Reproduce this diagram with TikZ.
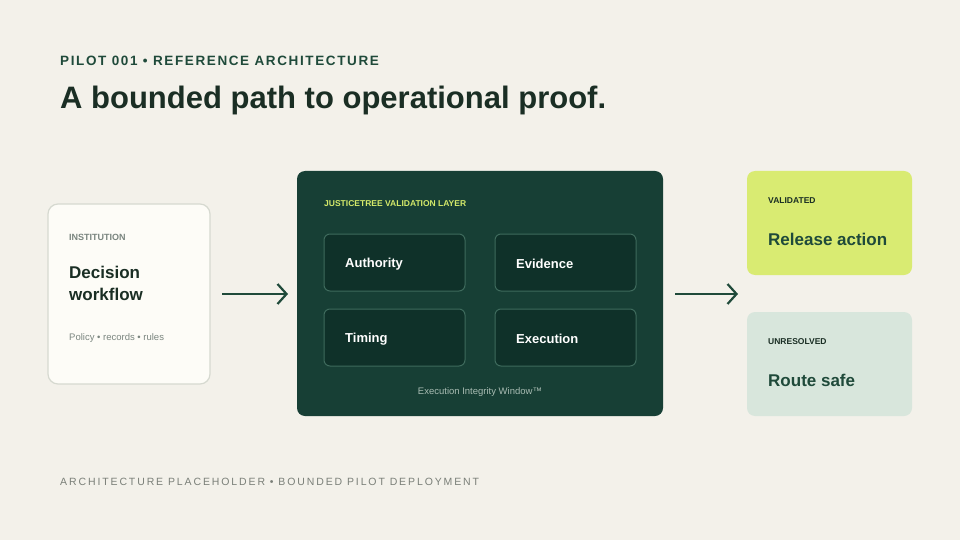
\documentclass[tikz,border=0pt]{standalone}
\usepackage{fontspec}
\setmainfont{Liberation Sans}
\newfontfamily\spacedA[LetterSpace=12]{Liberation Sans}
\newfontfamily\spacedB[LetterSpace=18]{Liberation Sans}
\usetikzlibrary{arrows.meta}
\definecolor{bg}{HTML}{F3F1EA}
\definecolor{dkg}{HTML}{1F4A3A}
\definecolor{ink}{HTML}{1A2E24}
\definecolor{panel}{HTML}{173F35}
\definecolor{cell}{HTML}{0F3129}
\definecolor{cellb}{HTML}{3E6A5C}
\definecolor{lime}{HTML}{D9EB72}
\definecolor{limet}{HTML}{D4E96A}
\definecolor{mint}{HTML}{D8E6DC}
\definecolor{gry}{HTML}{7A857F}
\begin{document}
\begin{tikzpicture}[x=1pt,y=-1pt,
  lbl/.style={anchor=west,inner sep=0pt},
  cellbox/.style={draw=cellb,fill=cell,rounded corners=6pt,line width=1pt},
  celltxt/.style={lbl,text=white,font=\fontsize{13}{15}\selectfont\bfseries},
  arr/.style={draw=dkg,line width=2.2pt,-{Straight Barb[length=9pt,width=20pt,line width=2.2pt]}}]
\fill[bg] (0,0) rectangle (960,540);
\useasboundingbox (0,0) rectangle (960,540);
\node[lbl,text=dkg,font=\spacedA\fontsize{13.5}{15}\selectfont\bfseries] (kick) at (60,61) {PILOT 001 • REFERENCE ARCHITECTURE};
\node[lbl,text=ink,font=\fontsize{31}{34}\selectfont\bfseries] (title) at (60,100) {A bounded path to operational proof.};
% left card
\node[draw={rgb,255:red,214;green,217;blue,208},fill={rgb,255:red,253;green,252;blue,247},rounded corners=10pt,line width=1.2pt,minimum width=162pt,minimum height=180pt,inner sep=0pt] (inst) at (129,294) {};
\node[lbl,text=gry,font=\fontsize{9}{11}\selectfont\bfseries] (instl) at (69,237) {INSTITUTION};
\node[anchor=north west,inner sep=0pt,text=ink,align=left,font=\fontsize{17}{22}\selectfont\bfseries] (dw) at (69,266) {Decision\\workflow};
\node[lbl,text=gry,font=\fontsize{9.5}{11}\selectfont] (pol) at (69,338) {Policy • records • rules};
% panel
\node[fill=panel,rounded corners=8pt,minimum width=366pt,minimum height=245pt,inner sep=0pt] (panel) at (480,293.5) {};
\node[lbl,text=limet,font=\fontsize{8.5}{10}\selectfont\bfseries] (jt) at (324,204) {JUSTICETREE VALIDATION LAYER};
\node[cellbox,minimum width=141pt,minimum height=57pt] (auth) at (394.5,262.5) {};
\node[cellbox,minimum width=141pt,minimum height=57pt] (evid) at (565.5,262.5) {};
\node[cellbox,minimum width=141pt,minimum height=57pt] (tim) at (394.5,337.5) {};
\node[cellbox,minimum width=141pt,minimum height=57pt] (exe) at (565.5,337.5) {};
\node[celltxt] at (345,264) {Authority};
\node[celltxt] at (516,264) {Evidence};
\node[celltxt] at (345,339) {Timing};
\node[celltxt] at (516,339) {Execution};
\node[inner sep=0pt,text={rgb,255:red,169;green,188;blue,179},font=\fontsize{9.5}{11}\selectfont] (eiw) at (480,392) {Execution Integrity Window™};
% right cards
\node[fill=lime,rounded corners=8pt,minimum width=165pt,minimum height=104pt,inner sep=0pt] (val) at (829.5,223) {};
\node[lbl,text=ink,font=\fontsize{8.5}{10}\selectfont\bfseries] at (768,201) {VALIDATED};
\node[lbl,text=dkg,font=\fontsize{17}{20}\selectfont\bfseries] at (768,239) {Release action};
\node[fill=mint,rounded corners=8pt,minimum width=165pt,minimum height=104pt,inner sep=0pt] (unr) at (829.5,364) {};
\node[lbl,text=ink,font=\fontsize{8.5}{10}\selectfont\bfseries] at (768,342) {UNRESOLVED};
\node[lbl,text=dkg,font=\fontsize{17}{20}\selectfont\bfseries] at (768,380) {Route safe};
% arrows
\coordinate (a1) at (222,294); \coordinate (a2) at (288,294);
\coordinate (b1) at (675,294); \coordinate (b2) at (738,294);
\draw[arr] (a1) -- (a2);
\draw[arr] (b1) -- (b2);
\node[lbl,text={rgb,255:red,122;green,127;blue,120},font=\spacedB\fontsize{10.5}{12}\selectfont] (foot) at (60,482) {ARCHITECTURE PLACEHOLDER • BOUNDED PILOT DEPLOYMENT};
\end{tikzpicture}
\end{document}
